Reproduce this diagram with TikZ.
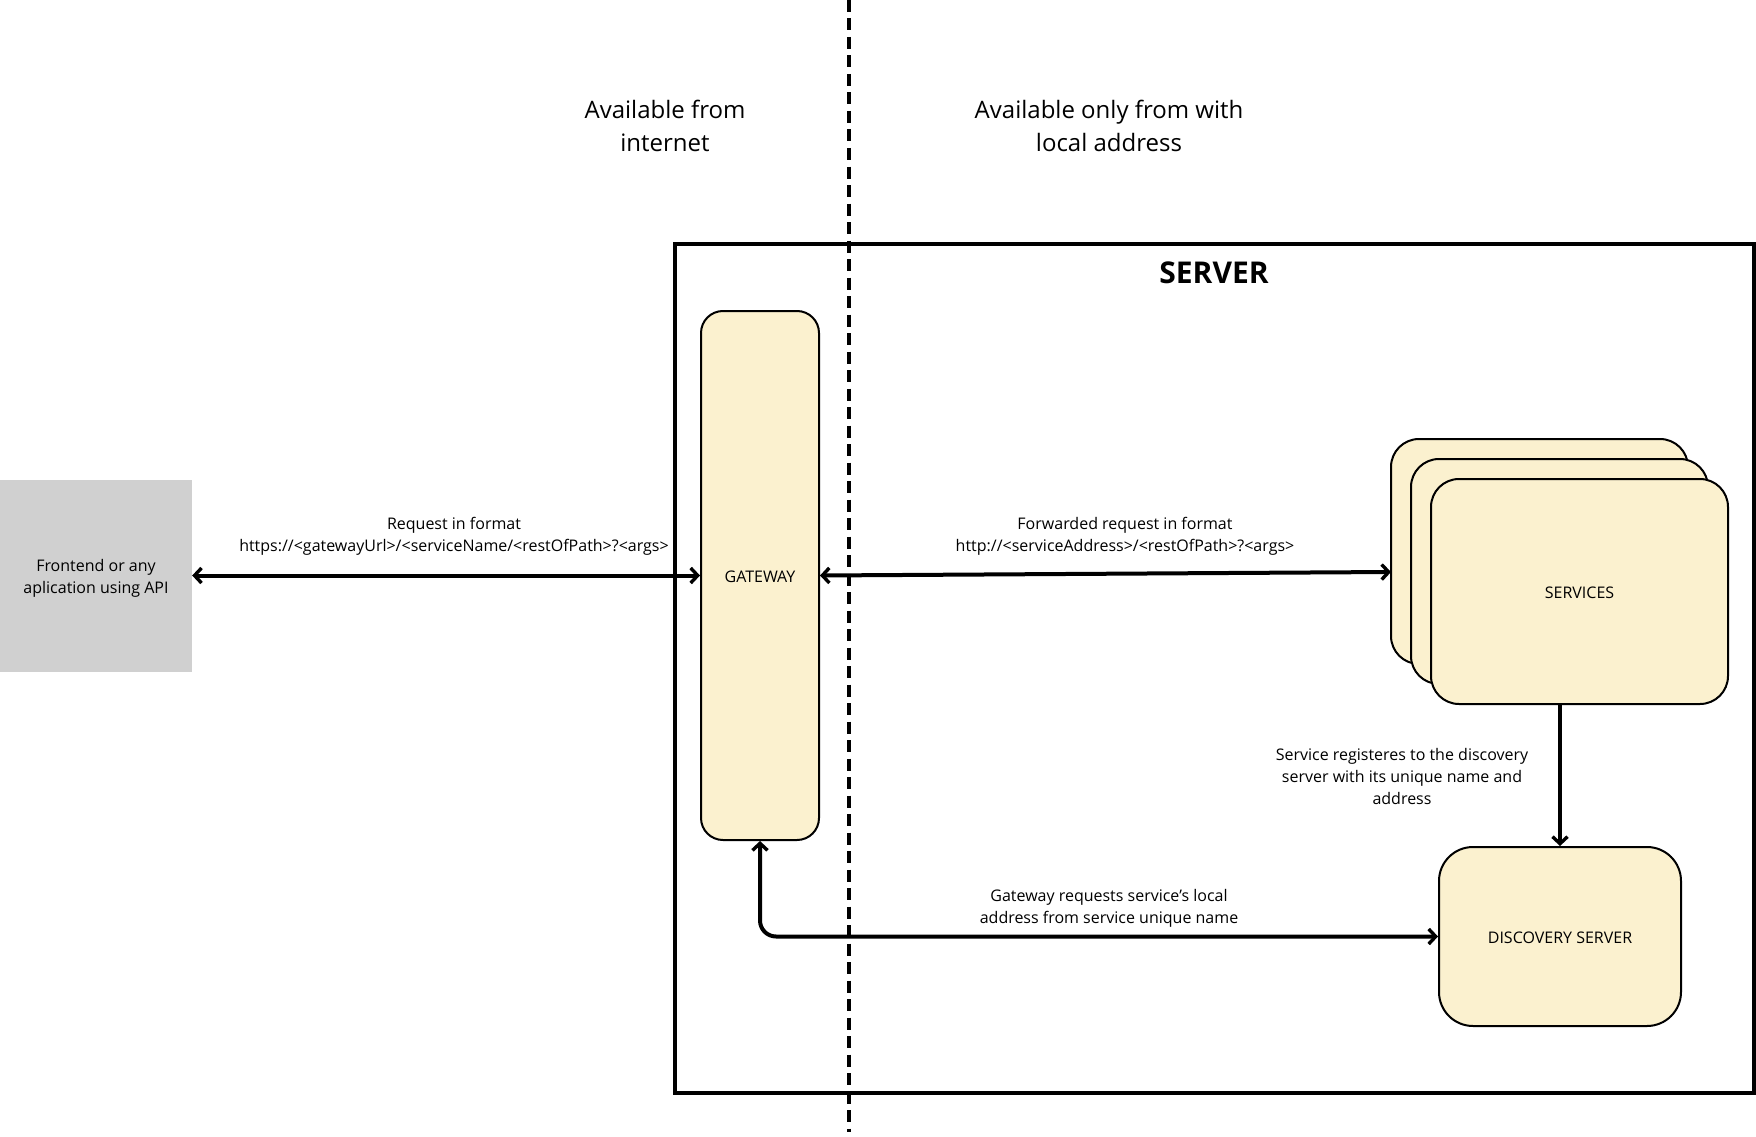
\documentclass[tikz,border=0pt]{standalone}
\usepackage{fontspec}
\setmainfont{Open Sans}
\usetikzlibrary{arrows.meta}
\definecolor{boxfill}{HTML}{FBF1CF}
\definecolor{grayfill}{HTML}{D0D0D0}
\tikzset{
  box/.style={draw=black, line width=2pt, fill=boxfill, rectangle, inner sep=0pt},
  lbl/.style={align=center, font=\fontsize{16}{22}\selectfont, inner sep=0pt},
  toplbl/.style={align=center, font=\fontsize{24}{33}\selectfont, inner sep=0pt},
  conn/.style={line width=4pt, {Straight Barb[length=7pt,width=15pt,line width=3.4pt]}-{Straight Barb[length=7pt,width=15pt,line width=3.4pt]}},
  connone/.style={line width=4pt, -{Straight Barb[length=7pt,width=15pt,line width=3.4pt]}},
}
\begin{document}
\begin{tikzpicture}[x=1pt,y=-1pt]
\useasboundingbox (0,0) rectangle (1756,1137);
% server box
\node[draw=black, line width=3.6pt, minimum width=1079pt, minimum height=849pt, inner sep=0pt] (server) at (1214.5,668.5) {};
\node[font=\fontsize{30}{36}\selectfont\bfseries, inner sep=0pt] (servertitle) at (1214,273) {SERVER};
% top labels
\node[toplbl] (inet) at (665,126) {Available from\\internet};
\node[toplbl] (local) at (1109,126) {Available only from with\\local address};
% frontend
\node[fill=grayfill, minimum width=192pt, minimum height=192pt, inner sep=0pt] (fe) at (96,576) {};
\node[lbl] (fetext) at (96,578) {Frontend or any\\aplication using API};
% gateway
\node[box, rounded corners=22pt, minimum width=118pt, minimum height=529pt] (gw) at (760,575.5) {};
\node[lbl] (gwtext) at (760,577) {GATEWAY};
% services stack
\node[box, rounded corners=28pt, minimum width=297pt, minimum height=225pt] (svc3) at (1539.5,551.5) {};
\node[box, rounded corners=28pt, minimum width=297pt, minimum height=225pt] (svc2) at (1559.5,571.5) {};
\node[box, rounded corners=28pt, minimum width=297pt, minimum height=225pt] (svc1) at (1579.5,591.5) {};
\node[lbl] (svctext) at (1579.5,592.5) {SERVICES};
% discovery
\node[box, rounded corners=34pt, minimum width=242pt, minimum height=179pt] (disc) at (1560,936.5) {};
\node[lbl] (disctext) at (1560,937.5) {DISCOVERY SERVER};
% dashed divider
\coordinate (dtop) at (849,0);
\coordinate (dbot) at (849,1132);
\draw[line width=3.8pt, dash pattern=on 12pt off 6.5pt] (dtop) -- (dbot);
% connectors
\draw[conn] (fe.east |- gw.west) -- (gw.west);
\coordinate (fwdend) at (1391,572);
\draw[conn] (gw.east) -- (fwdend);
\draw[connone] (disc.north |- svc1.south) -- (disc.north);
\draw[conn, rounded corners=16pt] (gw.south) -- (gw.south |- disc.west) -- (disc.west);
% labels
\node[lbl] (l1) at (454,536) {Request in format\\https://<gatewayUrl>/<serviceName/<restOfPath>?<args>};
\node[lbl] (l2) at (1125,536) {Forwarded request in format\\http://<serviceAddress>/<restOfPath>?<args>};
\node[lbl] (l3) at (1402,776.5) {Service registeres to the discovery\\server with its unique name and\\address};
\node[lbl] (l4) at (1109,908) {Gateway requests service’s local\\address from service unique name};
\end{tikzpicture}
\end{document}
